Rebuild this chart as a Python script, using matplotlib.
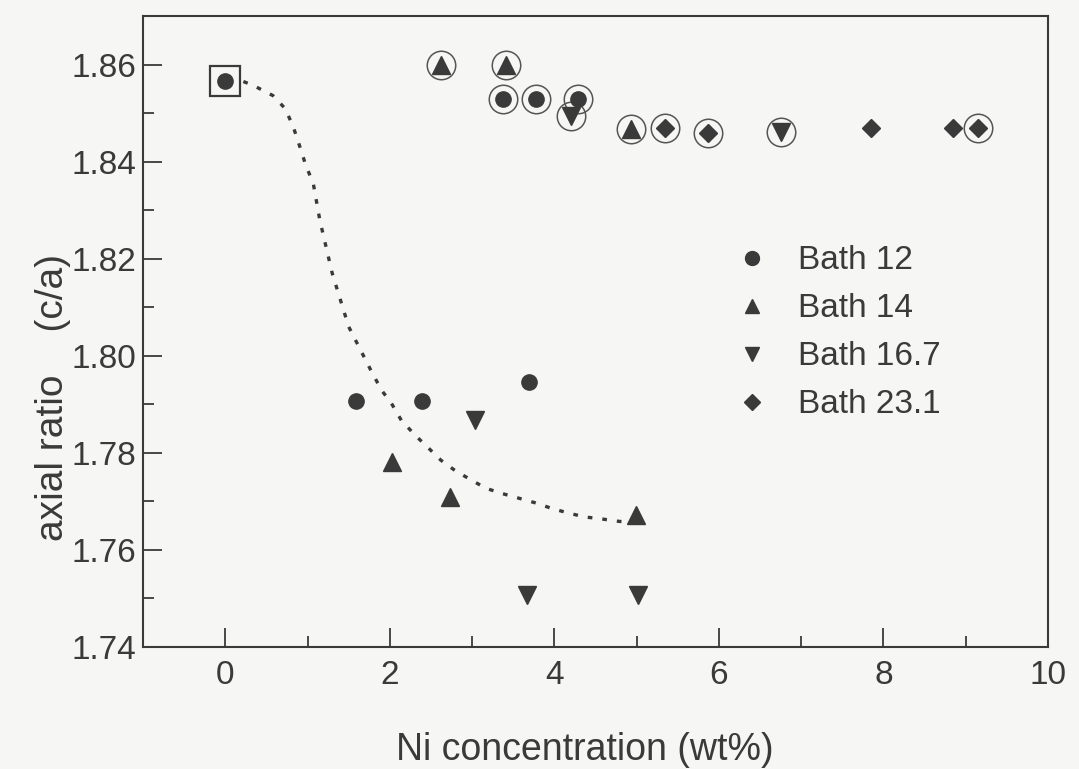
import matplotlib
matplotlib.use("Agg")
import matplotlib.pyplot as plt
from matplotlib.lines import Line2D

plt.rcParams['font.family'] = ['Liberation Sans', 'DejaVu Sans']

# values (Ni wt%, c/a)
bath12_x = [0.0, 1.59, 2.39, 3.38, 3.69, 3.78, 4.29]
bath12_y = [1.8567, 1.7906, 1.7906, 1.8530, 1.7946, 1.8530, 1.8530]
bath14_x = [2.03, 2.62, 2.73, 3.41, 4.93, 4.99]
bath14_y = [1.7781, 1.8600, 1.7709, 1.8600, 1.8468, 1.7672]
bath167_x = [3.04, 3.67, 4.20, 5.02, 6.76]
bath167_y = [1.7867, 1.7507, 1.8495, 1.7507, 1.8460]
bath231_x = [5.35, 5.87, 7.85, 8.85, 9.15]
bath231_y = [1.8470, 1.8458, 1.8470, 1.8470, 1.8470]

# points marked with an open circle
ring_x = [2.62, 3.41, 3.38, 3.78, 4.29, 4.20, 4.93, 5.35, 5.87, 6.76, 9.15]
ring_y = [1.8600, 1.8600, 1.8530, 1.8530, 1.8530, 1.8495, 1.8468, 1.8470, 1.8458, 1.8460, 1.8470]

# dotted guide curve
curve_x = [0.22, 0.34, 0.58, 0.73, 0.83, 0.91, 0.98, 1.07, 1.15, 1.30, 1.50, 1.77, 1.90,
           2.02, 2.14, 2.31, 2.47, 2.62, 2.79, 2.99, 3.17, 3.35, 3.56, 3.77, 3.96, 4.17,
           4.37, 4.57, 4.78, 4.92]
curve_y = [1.8565, 1.8557, 1.8536, 1.8509, 1.8470, 1.8429, 1.8392, 1.8355, 1.8279, 1.8170,
           1.8060, 1.7970, 1.7929, 1.7902, 1.7867, 1.7836, 1.7810, 1.7785, 1.7764, 1.7744,
           1.7727, 1.7717, 1.7707, 1.7697, 1.7686, 1.7676, 1.7668, 1.7664, 1.7659, 1.7657]

ink = '#3a3a3a'
bg = '#f6f6f4'

fig = plt.figure(figsize=(10.79, 7.69), dpi=100, facecolor=bg)
ax = fig.add_axes([0.1325, 0.1586, 0.8388, 0.8206], facecolor=bg)

ax.plot(curve_x, curve_y, color=ink, lw=2.4, ls=(0, (1.4, 3.0)), zorder=1)

ax.plot(bath12_x, bath12_y, 'o', color=ink, ms=11, ls='none', label='Bath 12', zorder=3)
ax.plot(bath14_x, bath14_y, '^', color=ink, ms=13, ls='none', label='Bath 14', zorder=3)
ax.plot(bath167_x, bath167_y, 'v', color=ink, ms=13, ls='none', label='Bath 16.7', zorder=3)
ax.plot(bath231_x, bath231_y, 'D', color=ink, ms=9.5, ls='none', label='Bath 23.1', zorder=3)

ax.plot(ring_x, ring_y, 'o', mfc='none', mec='#555555', mew=1.1, ms=20.5, ls='none', zorder=2)
ax.plot([bath12_x[0]], [bath12_y[0]], 's', mfc='none', mec=ink, mew=1.6, ms=22, zorder=2)

ax.set_xlim(-1, 10)
ax.set_ylim(1.74, 1.87)
ax.set_xticks([0, 2, 4, 6, 8, 10])
ax.set_xticks([1, 3, 5, 7, 9], minor=True)
ax.set_yticks([1.74, 1.76, 1.78, 1.80, 1.82, 1.84, 1.86])
ax.set_yticks([1.75, 1.77, 1.79, 1.81, 1.83, 1.85], minor=True)
ax.set_yticklabels(['1.74', '1.76', '1.78', '1.80', '1.82', '1.84', '1.86'])
ax.tick_params(which='both', direction='in', colors=ink, labelsize=24, width=1.3)
ax.tick_params(axis='y', pad=5)
ax.tick_params(axis='x', pad=9)
ax.tick_params(which='major', length=14)
ax.tick_params(which='minor', length=8)
for s in ax.spines.values():
    s.set_color(ink)
    s.set_linewidth(1.5)

ax.set_xlabel('Ni concentration (wt%)', fontsize=27, color=ink)
ax.xaxis.set_label_coords(0.488, -0.135)
ax.set_ylabel('axial ratio    (c/a)', fontsize=28, color=ink)
ax.yaxis.set_label_coords(-0.08, 0.395)

handles = [
    Line2D([], [], marker='o', color=ink, ls='none', ms=10),
    Line2D([], [], marker='^', color=ink, ls='none', ms=10),
    Line2D([], [], marker='v', color=ink, ls='none', ms=10),
    Line2D([], [], marker='D', color=ink, ls='none', ms=8),
]
leg = ax.legend(handles, ['Bath 12', 'Bath 14', 'Bath 16.7', 'Bath 23.1'],
                loc='upper left', bbox_to_anchor=(0.621, 0.684), frameon=False,
                fontsize=24, handlelength=1.0, handletextpad=0.9, labelspacing=0.51)
for t in leg.get_texts():
    t.set_color(ink)

fig.savefig('out.png', dpi=100, facecolor=bg)
